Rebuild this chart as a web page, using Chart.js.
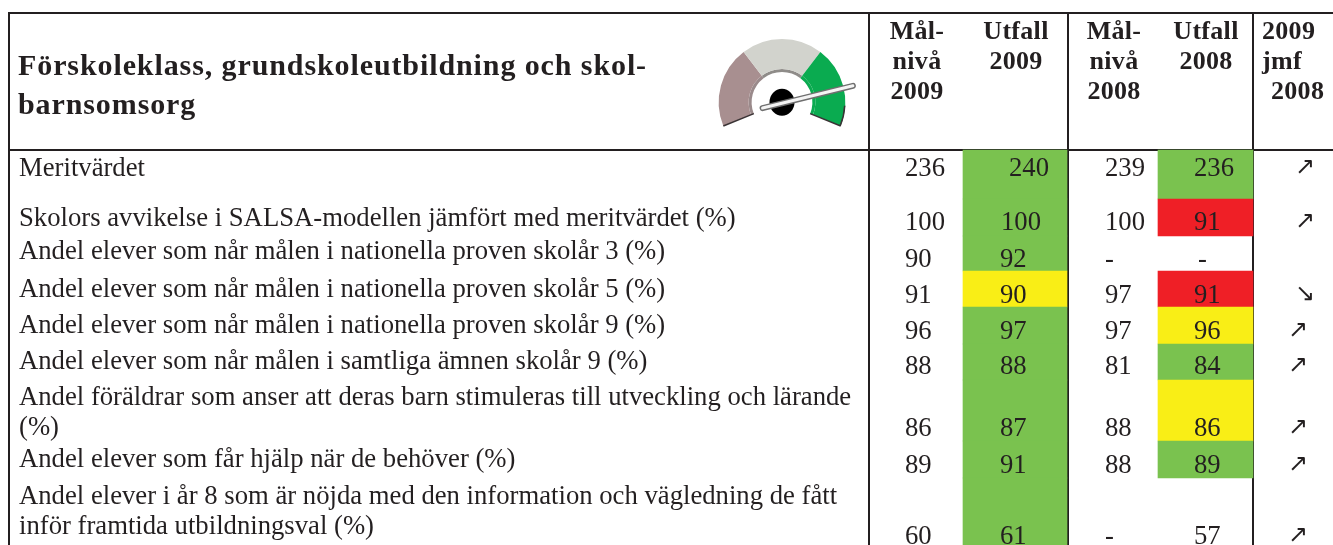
<!DOCTYPE html>
<html>
<head>
<meta charset="utf-8">
<title>Förskoleklass, grundskoleutbildning och skolbarnsomsorg</title>
<script src="https://cdn.jsdelivr.net/npm/chart.js@4"></script>
<style>
  html, body { margin: 0; padding: 0; background: #fff; overflow: hidden; }
  #wrap { position: relative; width: 1333px; height: 545px; }
  #table { position: absolute; left: 0; top: 0; }
  #gauge { position: absolute; left: 707px; top: 28px; }
</style>
</head>
<body>
<div id="wrap">
  <canvas id="table" width="1333" height="545"></canvas>
  <canvas id="gauge" width="150" height="109"></canvas>
</div>
<script>
// Data
const titleLines = ["Förskoleklass, grundskoleutbildning och skol-", "barnsomsorg"];
const rowLabels = [
  ["Meritvärdet"],
  ["Skolors avvikelse i SALSA-modellen jämfört med meritvärdet (%)"],
  ["Andel elever som når målen i nationella proven skolår 3 (%)"],
  ["Andel elever som når målen i nationella proven skolår 5 (%)"],
  ["Andel elever som når målen i nationella proven skolår 9 (%)"],
  ["Andel elever som når målen i samtliga ämnen skolår 9 (%)"],
  ["Andel föräldrar som anser att deras barn stimuleras till utveckling och lärande", "(%)"],
  ["Andel elever som får hjälp när de behöver (%)"],
  ["Andel elever i år 8 som är nöjda med den information och vägledning de fått", "inför framtida utbildningsval (%)"]
];
const headers = [
  ["Mål-", "nivå", "2009"],
  ["Utfall", "2009"],
  ["Mål-", "nivå", "2008"],
  ["Utfall", "2008"]
];
const trendHeader = ["2009", "jmf", "2008"];
const target2009 = [236, 100, 90, 91, 96, 88, 86, 89, 60];
const result2009 = [240, 100, 92, 90, 97, 88, 87, 91, 61];
const target2008 = [239, 100, null, 97, 97, 81, 88, 88, null];
const result2008 = [236, 91, null, 91, 96, 84, 86, 89, 57];
const status2009 = ["g", "g", "g", "y", "g", "g", "g", "g", "g"];
const status2008 = ["g", "r", null, "r", "y", "g", "y", "g", null];
const trend = ["↗", "↗", "", "↘", "↗", "↗", "↗", "↗", "↗"];
const gaugeZones = [1, 1, 1];
const gaugeNeedle = 0.84; // share of the dial

// Layout, in page pixels
const statusColors = { g: "#7ac24f", y: "#f9ee16", r: "#ef1f26" };
const ink = "#231f20";
const rowEdges = [150, 199, 236, 271, 307, 344, 380, 441, 478, 552];
const valueBaselines = [176, 230, 267, 303, 339, 374, 436, 473, 544];
const labelBaselines = [[176], [226], [259], [297], [333], [369], [405, 435], [467], [504, 534]];
const colLeft = [905, 1000, 1105, 1194];
const colCenter = [917, 1016, 1114, 1206];
const headerBaselines = [39, 69, 99];
const serif = '"Liberation Serif", "Times New Roman", serif';

function cellBars(cx, status) {
  const bars = [];
  status.forEach((s, i) => {
    if (s) bars.push({ x: cx, y: [rowEdges[i], rowEdges[i + 1]] });
  });
  return bars;
}

function rule(x1, y1, x2, y2) {
  return {
    type: "line",
    data: [{ x: x1, y: y1 }, { x: x2, y: y2 }],
    borderColor: ink,
    borderWidth: 2,
    pointRadius: 0,
    tension: 0,
    order: 3
  };
}

const tableText = {
  id: "tableText",
  afterDatasetsDraw(chart) {
    const c = chart.ctx;
    const X = (v) => chart.scales.x.getPixelForValue(v);
    const Y = (v) => chart.scales.y.getPixelForValue(v);
    c.save();
    c.fillStyle = ink;
    c.textBaseline = "alphabetic";

    c.textAlign = "left";
    c.font = "bold 30px " + serif;
    c.letterSpacing = "0.9px";
    titleLines.forEach((t, i) => c.fillText(t, X(18), Y([75, 114][i])));

    c.textAlign = "center";
    c.font = "bold 26px " + serif;
    c.letterSpacing = "0.3px";
    headers.forEach((lines, col) => {
      lines.forEach((t, i) => c.fillText(t, X(colCenter[col]), Y(headerBaselines[i])));
    });
    c.textAlign = "left";
    c.fillText(trendHeader[0], X(1262), Y(headerBaselines[0]));
    c.fillText(trendHeader[1], X(1262), Y(headerBaselines[1]));
    c.fillText(trendHeader[2], X(1271), Y(headerBaselines[2]));

    c.font = "26.7px " + serif;
    c.letterSpacing = "0px";
    rowLabels.forEach((lines, r) => {
      lines.forEach((t, i) => c.fillText(t, X(19), Y(labelBaselines[r][i])));
    });

    [target2009, result2009, target2008, result2008].forEach((vals, col) => {
      vals.forEach((v, r) => {
        let x = colLeft[col];
        if (col === 1 && v >= 100) x = v === 240 ? 1009 : 1001;
        if (col === 3 && v === null) x = 1198;
        c.fillText(v === null ? "-" : String(v), X(x), Y(valueBaselines[r]));
      });
    });

    c.font = '24px "DejaVu Sans"';
    trend.forEach((t, r) => {
      if (t) c.fillText(t, X(r < 4 ? 1295 : 1288), Y(valueBaselines[r] - 2));
    });
    c.restore();
  }
};

new Chart(document.getElementById("table"), {
  data: {
    datasets: [
      { type: "bar", label: "Utfall 2009", data: cellBars(1015, status2009),
        backgroundColor: status2009.filter(Boolean).map((s) => statusColors[s]),
        barThickness: 104, grouped: false, order: 1 },
      { type: "bar", label: "Utfall 2008", data: cellBars(1205.5, status2008),
        backgroundColor: status2008.filter(Boolean).map((s) => statusColors[s]),
        barThickness: 95, grouped: false, order: 1 },
      rule(8, 13, 1333, 13),
      rule(8, 150, 1333, 150),
      rule(9, 13, 9, 545),
      rule(869, 13, 869, 545),
      rule(1068, 13, 1068, 545),
      rule(1253, 13, 1253, 545)
    ]
  },
  options: {
    responsive: false,
    animation: false,
    events: [],
    layout: { padding: 0 },
    plugins: { legend: { display: false }, tooltip: { enabled: false } },
    scales: {
      x: { type: "linear", display: false, offset: false, min: 0, max: 1333 },
      y: { type: "linear", display: false, min: 0, max: 545, reverse: true }
    }
  },
  plugins: [tableText]
});

const DIAL_START = -112;
const DIAL_SWEEP = 224;

const gaugeNeedleDraw = {
  id: "gaugeNeedleDraw",
  afterDatasetsDraw(chart) {
    const c = chart.ctx;
    const arcs = chart.getDatasetMeta(0).data;
    const cx = arcs[0].x, cy = arcs[0].y, r = arcs[0].outerRadius;
    const ri = chart.getDatasetMeta(1).data[0].innerRadius;
    // dark bottom edges of the dial
    c.save();
    c.strokeStyle = "#3a3335";
    c.lineWidth = 1.5;
    [arcs[0].startAngle, arcs[2].endAngle].forEach((a) => {
      c.beginPath();
      c.moveTo(cx + ri * Math.cos(a), cy + ri * Math.sin(a));
      c.lineTo(cx + r * Math.cos(a), cy + r * Math.sin(a));
      c.stroke();
    });
    c.beginPath();
    c.arc(cx, cy, r - 0.5, arcs[2].endAngle - 0.33, arcs[2].endAngle);
    c.stroke();
    // hub
    c.fillStyle = "#000";
    c.beginPath();
    c.ellipse(cx, cy, 12.5, 13.5, 0, 0, Math.PI * 2);
    c.fill();
    // needle
    const a = (DIAL_START + DIAL_SWEEP * gaugeNeedle - 90) * Math.PI / 180;
    const tip = [cx + 73 * Math.cos(a), cy + 1 + 73 * Math.sin(a)];
    const tail = [cx - 20 * Math.cos(a), cy + 1 - 20 * Math.sin(a)];
    c.lineCap = "round";
    [[6, "#6f6f6f"], [3, "#f4f4f4"]].forEach(([w, col]) => {
      c.lineWidth = w;
      c.strokeStyle = col;
      c.beginPath();
      c.moveTo(tail[0], tail[1]);
      c.lineTo(tip[0], tip[1]);
      c.stroke();
    });
    c.restore();
  }
};

new Chart(document.getElementById("gauge"), {
  type: "doughnut",
  data: {
    datasets: [
      { data: gaugeZones, weight: 30, borderWidth: 0, backgroundColor: ["#a88f90", "#d2d3cd", "#0aab50"] },
      { data: gaugeZones, weight: 3, borderWidth: 0, backgroundColor: ["#9a8a8b", "#8f8c89", "#0aab50"] }
    ]
  },
  options: {
    responsive: false,
    animation: false,
    events: [],
    rotation: DIAL_START,
    circumference: DIAL_SWEEP,
    cutout: "48%",
    layout: { padding: 11 },
    plugins: { legend: { display: false }, tooltip: { enabled: false } }
  },
  plugins: [gaugeNeedleDraw]
});
</script>
</body>
</html>
